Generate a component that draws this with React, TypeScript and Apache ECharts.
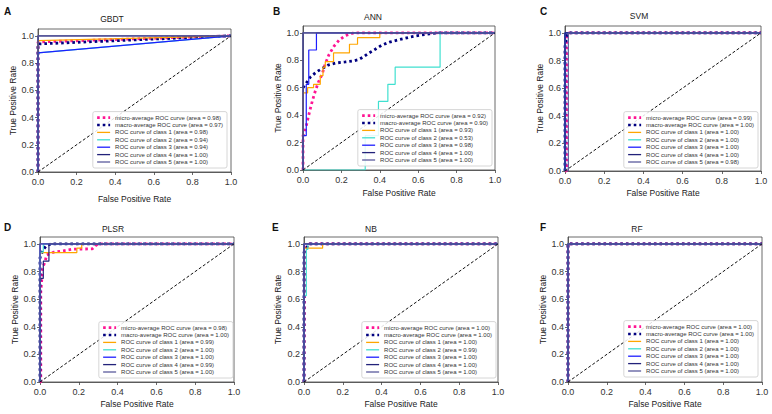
import React, { useEffect, useRef } from "react";
import * as echarts from "echarts";

type Pt = [number, number];

// ---------- data: [false positive rate, true positive rate] ----------
const PERFECT: Pt[] = [[0, 0], [0, 1], [1, 1]];

// GBDT
const gbdtMicro: Pt[] = [[0, 0], [0, 0.955], [1, 1]];
const gbdtMacro: Pt[] = [[0, 0], [0, 0.94], [1, 1]];
const gbdtC1: Pt[] = [[0, 0], [0, 0.965], [1, 1]];
const gbdtC2: Pt[] = [[0, 0], [0, 0.875], [1, 1]];
const gbdtC3: Pt[] = [[0, 0], [0, 0.875], [1, 1]];
const gbdtC4: Pt[] = PERFECT;
const gbdtC5: Pt[] = PERFECT;
const gbdtAreas = [0.98, 0.97, 0.98, 0.94, 0.94, 1.0, 1.0];

// ANN
const annMicro: Pt[] = [[0, 0], [0, 0.25], [0.01, 0.28], [0.02, 0.34], [0.035, 0.43], [0.05, 0.51], [0.065, 0.58], [0.08, 0.64], [0.1, 0.7], [0.115, 0.77], [0.135, 0.84], [0.16, 0.9], [0.19, 0.95], [0.22, 0.98], [0.265, 1], [1, 1]];
const annMacro: Pt[] = [[0, 0.6], [0.01, 0.62], [0.04, 0.68], [0.07, 0.715], [0.1, 0.74], [0.13, 0.765], [0.17, 0.78], [0.22, 0.788], [0.26, 0.795], [0.29, 0.805], [0.315, 0.825], [0.34, 0.85], [0.37, 0.875], [0.41, 0.91], [0.45, 0.932], [0.5, 0.95], [0.56, 0.97], [0.61, 0.983], [0.66, 0.993], [0.71, 1], [1, 1]];
const annC1: Pt[] = [[0, 0], [0, 0.5625], [0.024, 0.5625], [0.024, 0.6], [0.055, 0.6], [0.055, 0.625], [0.09, 0.625], [0.09, 0.6875], [0.104, 0.6875], [0.104, 0.75], [0.116, 0.75], [0.116, 0.79], [0.159, 0.79], [0.159, 0.854], [0.242, 0.854], [0.242, 0.917], [0.284, 0.917], [0.284, 0.965], [0.4, 0.965], [0.4, 1], [1, 1]];
const annC2: Pt[] = [[0, 0], [0.324, 0], [0.324, 0.25], [0.393, 0.25], [0.393, 0.5], [0.442, 0.5], [0.442, 0.625], [0.48, 0.625], [0.48, 0.75], [0.714, 0.75], [0.714, 1], [1, 1]];
const annC3: Pt[] = [[0, 0], [0, 0.25], [0.017, 0.25], [0.017, 0.625], [0.03, 0.625], [0.03, 0.875], [0.07, 0.875], [0.07, 1], [1, 1]];
const annC4: Pt[] = PERFECT;
const annC5: Pt[] = PERFECT;
const annAreas = [0.92, 0.9, 0.93, 0.53, 0.98, 1.0, 1.0];

// SVM
const svmMicro: Pt[] = [[0, 0], [0.008, 0], [0.008, 0.97], [0.02, 1], [1, 1]];
const svmMacro: Pt[] = [[0, 0], [0, 0.9], [0.008, 0.97], [0.017, 1], [1, 1]];
const svmC1: Pt[] = PERFECT;
const svmC2: Pt[] = PERFECT;
const svmC3: Pt[] = PERFECT;
const svmC4: Pt[] = PERFECT;
const svmC5: Pt[] = [[0, 0], [0.017, 0], [0.017, 1], [1, 1]];
const svmAreas = [0.99, 1.0, 1.0, 1.0, 1.0, 1.0, 0.98];

// PLSR
const plsrMicro: Pt[] = [[0, 0], [0.004, 0], [0.004, 0.65], [0.009, 0.74], [0.014, 0.83], [0.026, 0.87], [0.034, 0.92], [0.07, 0.94], [0.12, 0.95], [0.17, 0.962], [0.27, 0.964], [0.285, 0.985], [0.3, 1], [1, 1]];
const plsrMacro: Pt[] = [[0, 0], [0, 0.9], [0.017, 0.96], [0.035, 0.99], [0.06, 1], [1, 1]];
const plsrC1: Pt[] = [[0, 0], [0, 0.9375], [0.19, 0.9375], [0.19, 0.969], [0.215, 0.969], [0.215, 1], [1, 1]];
const plsrC2: Pt[] = [[0, 0], [0, 0.94], [0.017, 0.94], [0.017, 1], [1, 1]];
const plsrC3: Pt[] = PERFECT;
const plsrC4: Pt[] = [[0, 0], [0, 0.75], [0.017, 0.75], [0.017, 0.875], [0.046, 0.875], [0.046, 1], [1, 1]];
const plsrC5: Pt[] = PERFECT;
const plsrAreas = [0.98, 1.0, 0.99, 1.0, 1.0, 0.99, 1.0];

// NB
const nbMicro: Pt[] = [[0, 0], [0.003, 0], [0.003, 0.96], [0.015, 0.98], [0.02, 1], [1, 1]];
const nbMacro: Pt[] = [[0, 0], [0, 0.94], [0.01, 0.96], [0.02, 0.99], [0.03, 1], [1, 1]];
const nbC1: Pt[] = [[0, 0], [0, 0.969], [0.096, 0.969], [0.096, 1], [1, 1]];
const nbC2: Pt[] = [[0, 0], [0, 0.625], [0.012, 0.625], [0.012, 0.96], [0.02, 0.96], [0.02, 1], [1, 1]];
const nbC3: Pt[] = PERFECT;
const nbC4: Pt[] = PERFECT;
const nbC5: Pt[] = PERFECT;
const nbAreas = [1.0, 1.0, 1.0, 0.99, 1.0, 1.0, 1.0];

// RF
const rfMicro: Pt[] = PERFECT;
const rfMacro: Pt[] = PERFECT;
const rfC1: Pt[] = PERFECT;
const rfC2: Pt[] = PERFECT;
const rfC3: Pt[] = PERFECT;
const rfC4: Pt[] = PERFECT;
const rfC5: Pt[] = PERFECT;
const rfAreas = [1.0, 1.0, 1.0, 1.0, 1.0, 1.0, 1.0];

const diagonal: Pt[] = [[0, 0], [1, 1]];

const xTicks = [0, 0.2, 0.4, 0.6, 0.8, 1.0];
const yTicks = [0, 0.2, 0.4, 0.6, 0.8, 1.0];

const curveLabels = [
  "micro-average ROC curve",
  "macro-average ROC curve",
  "ROC curve of class 1",
  "ROC curve of class 2",
  "ROC curve of class 3",
  "ROC curve of class 4",
  "ROC curve of class 5",
];

const panels = [
  { letter: "A", title: "GBDT", areas: gbdtAreas, curves: [gbdtMicro, gbdtMacro, gbdtC1, gbdtC2, gbdtC3, gbdtC4, gbdtC5] },
  { letter: "B", title: "ANN", areas: annAreas, curves: [annMicro, annMacro, annC1, annC2, annC3, annC4, annC5] },
  { letter: "C", title: "SVM", areas: svmAreas, curves: [svmMicro, svmMacro, svmC1, svmC2, svmC3, svmC4, svmC5] },
  { letter: "D", title: "PLSR", areas: plsrAreas, curves: [plsrMicro, plsrMacro, plsrC1, plsrC2, plsrC3, plsrC4, plsrC5] },
  { letter: "E", title: "NB", areas: nbAreas, curves: [nbMicro, nbMacro, nbC1, nbC2, nbC3, nbC4, nbC5] },
  { letter: "F", title: "RF", areas: rfAreas, curves: [rfMicro, rfMacro, rfC1, rfC2, rfC3, rfC4, rfC5] },
];

// ---------- styling / layout ----------
const FONT = '"Liberation Sans", Arial, Helvetica, sans-serif';
const COLORS = ["#FF1493", "#000080", "#FFA500", "#40E0D0", "#1E1EFF", "#22227A", "#5A5A9C"];
const DOT: number[] = [2.6, 3];

const layouts = [
  { left: 38, top: 29, width: 193, height: 143, lgRight: 545, lgBottom: 246, tx: 112, ty: 19, lx: 4, ly: 6, xGap: 22, yGap: 21 },
  { left: 303, top: 26, width: 192, height: 144, lgRight: 280, lgBottom: 248, tx: 373, ty: 17, lx: 273, ly: 6, xGap: 18.5, yGap: 19 },
  { left: 565, top: 26, width: 196, height: 145, lgRight: 14, lgBottom: 246, tx: 639, ty: 16, lx: 540, ly: 6, xGap: 17.5, yGap: 19 },
  { left: 40, top: 237, width: 194, height: 145, lgRight: 539, lgBottom: 36, tx: 113, ty: 229, lx: 4, ly: 222, xGap: 17.5, yGap: 20.5 },
  { left: 304, top: 237, width: 194, height: 145, lgRight: 276, lgBottom: 36, tx: 371, ty: 229, lx: 272, ly: 222, xGap: 17.5, yGap: 22 },
  { left: 568, top: 237, width: 194, height: 145, lgRight: 14, lgBottom: 37, tx: 637, ty: 229, lx: 540, ly: 222, xGap: 17.5, yGap: 19.5 },
];

function buildOption() {
  const grid: any[] = [];
  const xAxis: any[] = [];
  const yAxis: any[] = [];
  const series: any[] = [];
  const legend: any[] = [];
  const graphic: any[] = [];

  panels.forEach((p, i) => {
    const L = layouts[i];
    grid.push({
      left: L.left, top: L.top, width: L.width, height: L.height,
      show: true, borderColor: "#444", borderWidth: 0.8, backgroundColor: "transparent",
    });
    const axisCommon = {
      gridIndex: i,
      type: "value",
      splitLine: { show: false },
      axisLine: { show: true, lineStyle: { color: "#444", width: 0.8 } },
      axisTick: { show: true, length: 3, lineStyle: { color: "#444", width: 0.8 } },
      nameLocation: "middle",
      nameTextStyle: { fontSize: 8.5, color: "#222", fontFamily: FONT },
    };
    xAxis.push({
      ...axisCommon,
      min: 0, max: 1, interval: 0.2,
      name: "False Positive Rate", nameGap: L.xGap,
      axisLabel: { fontSize: 9, color: "#333", margin: 5, fontFamily: FONT, formatter: (v: number) => v.toFixed(1), customValues: xTicks },
      axisTick: { ...axisCommon.axisTick, customValues: xTicks },
    });
    yAxis.push({
      ...axisCommon,
      min: 0, max: 1.05,
      name: "True Positive Rate", nameGap: L.yGap,
      axisLabel: { fontSize: 9, color: "#333", margin: 4, fontFamily: FONT, formatter: (v: number) => v.toFixed(1), customValues: yTicks },
      axisTick: { ...axisCommon.axisTick, customValues: yTicks },
    });

    const names: string[] = [];
    p.curves.forEach((c, j) => {
      const name = `${p.letter}|${curveLabels[j]} (area = ${p.areas[j].toFixed(2)})`;
      names.push(name);
      const dotted = j < 2;
      series.push({
        type: "line",
        name,
        xAxisIndex: i,
        yAxisIndex: i,
        data: c,
        symbol: "none",
        silent: true,
        lineStyle: dotted
          ? { color: COLORS[j], width: 2.8, type: DOT, cap: "butt" }
          : { color: COLORS[j], width: 1.2, type: "solid" },
        z: 2 + j * 0.01,
      });
    });
    series.push({
      type: "line",
      name: `${p.letter}|diagonal`,
      xAxisIndex: i,
      yAxisIndex: i,
      data: diagonal,
      symbol: "none",
      silent: true,
      lineStyle: { color: "#111", width: 1, type: [3, 2] },
      z: 3,
    });

    legend.push({
      orient: "vertical",
      right: L.lgRight,
      bottom: L.lgBottom,
      itemWidth: 13,
      itemHeight: 5,
      itemGap: 1.4,
      padding: [3, 4, 3, 3],
      selectedMode: false,
      backgroundColor: "rgba(255,255,255,0.85)",
      borderColor: "#cccccc",
      borderWidth: 0.8,
      borderRadius: 2,
      formatter: (n: string) => n.split("|")[1],
      textStyle: { fontSize: 6, color: "#333", fontFamily: FONT },
      data: names.map((n, j) => ({
        name: n,
        itemStyle: { opacity: 0 },
        lineStyle: j < 2
          ? { color: COLORS[j], width: 2.6, type: DOT }
          : { color: COLORS[j], width: 1.3, type: "solid" },
      })),
    });

    graphic.push({
      type: "text", x: L.tx, y: L.ty,
      style: { text: p.title, fontSize: 8.5, fill: "#222", fontFamily: FONT, textAlign: "center", textVerticalAlign: "middle" },
    });
    graphic.push({
      type: "text", x: L.lx, y: L.ly,
      style: { text: p.letter, fontSize: 10, fontWeight: "bold", fill: "#111", fontFamily: FONT, textAlign: "left", textVerticalAlign: "top" },
    });
  });

  return {
    animation: false,
    backgroundColor: "#ffffff",
    textStyle: { fontFamily: FONT },
    grid, xAxis, yAxis, series, legend, graphic,
  };
}

export default function App() {
  const ref = useRef<HTMLDivElement>(null);
  useEffect(() => {
    if (!ref.current) return;
    const chart = echarts.init(ref.current, undefined, { renderer: "svg" });
    chart.setOption(buildOption() as any);
    return () => chart.dispose();
  }, []);
  return <div ref={ref} style={{ position: "absolute", left: 0, top: 0, width: 772, height: 414 }} />;
}
